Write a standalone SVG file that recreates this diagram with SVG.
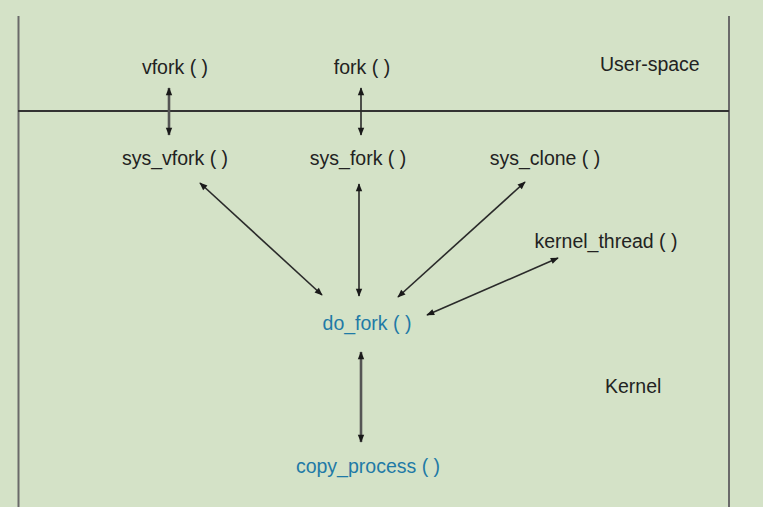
<svg xmlns="http://www.w3.org/2000/svg" width="763" height="507" viewBox="0 0 763 507">
<style>
text{font-family:"Liberation Sans",Arial,sans-serif;font-size:19.5px;fill:#222;text-anchor:middle}
.blue{fill:#1f7aa6}
.lbl{text-anchor:start}
.c{stroke:#2a2a2a;stroke-width:1.6;fill:none;marker-start:url(#ah);marker-end:url(#ah)}
.thick{stroke:#555;stroke-width:2.6}
</style>
<defs>
<marker id="ah" viewBox="0 0 10 10" refX="9" refY="5" markerWidth="10" markerHeight="8" markerUnits="userSpaceOnUse" orient="auto-start-reverse">
<path d="M0,1 L10,5 L0,9 Z" fill="#1a1a1a"/>
</marker>
</defs>
<rect width="763" height="507" fill="#d4e2c7"/>
<g id="frame">
<line x1="18.5" y1="16" x2="18.5" y2="507" stroke="#6a6a6a" stroke-width="2"/>
<line x1="729" y1="16" x2="729" y2="507" stroke="#6a6a6a" stroke-width="2"/>
<line x1="18" y1="111" x2="729" y2="111" stroke="#333" stroke-width="2"/>
<text class="lbl" x="600" y="71">User-space</text>
<text class="lbl" x="605" y="393">Kernel</text>
</g>
<g id="connectors">
<line class="c thick" x1="169" y1="88" x2="169" y2="135"/>
<line class="c" x1="361" y1="88" x2="361" y2="135"/>
<line class="c" x1="200" y1="183" x2="322" y2="295"/>
<line class="c" x1="359" y1="184" x2="359" y2="296"/>
<line class="c" x1="525" y1="182" x2="398" y2="297"/>
<line class="c" x1="558" y1="258" x2="427" y2="315"/>
<line class="c thick" x1="361" y1="352" x2="361" y2="442"/>
</g>
<g id="vfork"><text x="175" y="74">vfork ( )</text></g>
<g id="fork"><text x="362" y="74">fork ( )</text></g>
<g id="sys_vfork"><text x="175" y="165">sys_vfork ( )</text></g>
<g id="sys_fork"><text x="358" y="165">sys_fork ( )</text></g>
<g id="sys_clone"><text x="545" y="165">sys_clone ( )</text></g>
<g id="kernel_thread"><text x="606" y="248">kernel_thread ( )</text></g>
<g id="do_fork"><text class="blue" x="367" y="330">do_fork ( )</text></g>
<g id="copy_process"><text class="blue" x="368" y="473">copy_process ( )</text></g>
</svg>
